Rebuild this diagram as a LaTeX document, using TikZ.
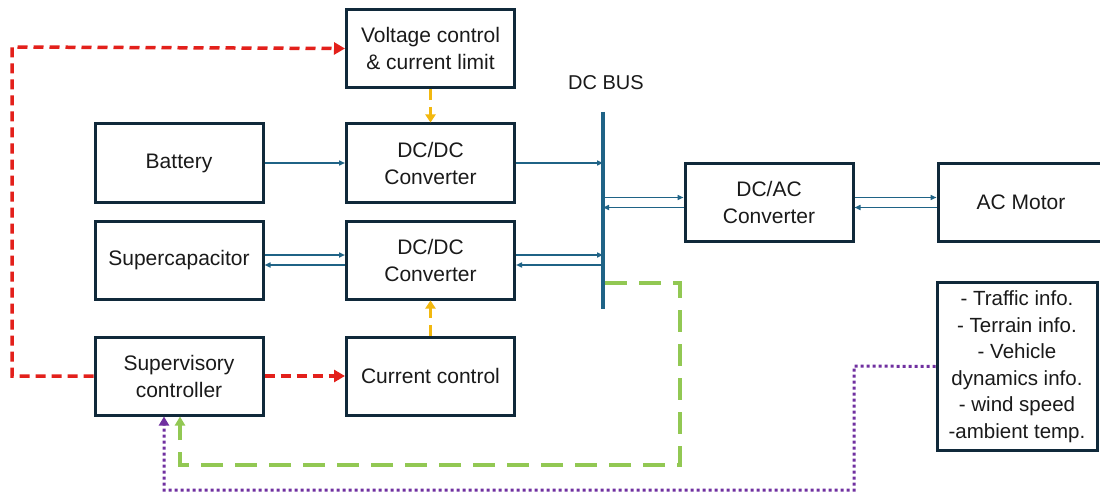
\documentclass[tikz,border=0pt]{standalone}
\usepackage{fontspec}
\setmainfont{Liberation Sans}
\usetikzlibrary{arrows.meta,calc}
\definecolor{boxc}{HTML}{10293A}
\definecolor{tealc}{HTML}{1F6386}
\definecolor{redc}{HTML}{E3201B}
\definecolor{yelc}{HTML}{F2B80F}
\definecolor{grnc}{HTML}{92C853}
\definecolor{purc}{HTML}{7030A0}
\definecolor{txtc}{HTML}{1A1A1A}
\begin{document}
\begin{tikzpicture}[x=1pt,y=-1pt,
  blk/.style={draw=boxc,line width=3pt,rectangle,minimum width=168pt,minimum height=78pt,
    align=center,text=txtc,font=\fontsize{21}{27}\selectfont,inner sep=0pt},
  pw/.style={draw=tealc,line width=1.5pt,-{Triangle[length=6pt,width=5pt]}},
  redl/.style={draw=redc,line width=3.5pt,dash pattern=on 10pt off 6pt,-{Triangle[length=11pt,width=12pt]}},
  yell/.style={draw=yelc,line width=3pt,dash pattern=on 11pt off 7pt,-{Triangle[length=8pt,width=10pt]}},
  grnl/.style={draw=grnc,line width=3.5pt,dash pattern=on 22pt off 12pt,-{Triangle[length=9pt,width=10pt]}},
  purl/.style={draw=purc,line width=3pt,dash pattern=on 3pt off 3pt,-{Triangle[length=9pt,width=10pt]}},
  lbl/.style={text=txtc,font=\fontsize{20}{27}\selectfont}]
\useasboundingbox (0,0) rectangle (1100,492);
\fill[white] (0,0) rectangle (1100,492);

\node[blk] (volt) at (430.5,48.5) {Voltage control\\\& current limit};
\node[blk] (batt) at (179,163) {Battery};
\node[blk] (dc1) at (430.5,163) {DC/DC\\Converter};
\node[blk] (scap) at (179,260) {Supercapacitor};
\node[blk] (dc2) at (430.5,260) {DC/DC\\Converter};
\node[blk] (sup) at (179,376) {Supervisory\\controller};
\node[blk] (cur) at (430.5,376) {Current control};
\node[blk] (dcac) at (769,202.5) {DC/AC\\Converter};
\node[blk,minimum width=166pt] (mot) at (1021,202.5) {AC Motor};
\node[blk,minimum width=160pt,minimum height=168pt,font=\fontsize{20.5}{26.5}\selectfont] (info) at (1017,366.5)
  {- Traffic info.\\- Terrain info.\\- Vehicle\\dynamics info.\\- wind speed\\-ambient temp.};

% DC bus
\coordinate (bustop) at (603,112);
\coordinate (busbot) at (603,309);
\draw[tealc,line width=4.5pt] (bustop) -- (busbot);
\node[lbl] (buslbl) at (606,83) {DC BUS};

% power flows
\draw[pw] (batt.east) -- (dc1.west);
\draw[pw] (dc1.east) -- (dc1.east -| bustop);
\draw[pw] ([yshift=5pt]scap.east) -- ([yshift=5pt]dc2.west);
\draw[pw] ([yshift=-5pt]dc2.west) -- ([yshift=-5pt]scap.east);
\draw[pw] ([yshift=5pt]dc2.east) -- ([yshift=5pt]dc2.east -| bustop);
\draw[pw] ([yshift=-5pt]dc2.east -| bustop) -- ([yshift=-5pt]dc2.east);
\draw[pw] ([yshift=5pt]dcac.west -| bustop) -- ([yshift=5pt]dcac.west);
\draw[pw] ([yshift=-5pt]dcac.west) -- ([yshift=-5pt]dcac.west -| bustop);
\draw[pw] ([yshift=5pt]dcac.east) -- ([yshift=5pt]mot.west);
\draw[pw] ([yshift=-5pt]mot.west) -- ([yshift=-5pt]dcac.east);

% control signals
\draw[redl] (sup.west) -- (12,376) -- (12,47) -- (volt.west);
\draw[redl] (sup.east) -- (cur.west);
\draw[yell] (volt.south) -- (dc1.north);
\draw[yell] (cur.north) -- (dc2.south);
\coordinate (gstart) at (605,283);
\draw[grnl] (gstart) -- (680,283) -- (680,465) -- (180,465) -- ([xshift=1pt]sup.south);
\draw[purl] (info.west) -- (854,366) -- (854,490) -- (164,490) -- ([xshift=-15pt]sup.south);
\end{tikzpicture}
\end{document}
